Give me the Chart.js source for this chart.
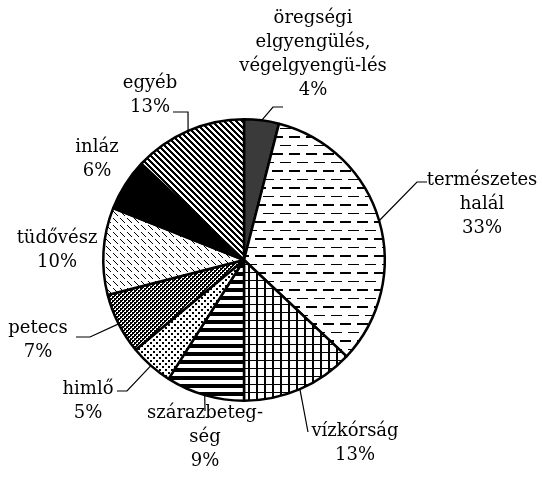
<!DOCTYPE html>
<html>
<head>
<meta charset="utf-8">
<script src="https://cdn.jsdelivr.net/npm/chart.js@4"></script>
<style>
  html, body { margin: 0; padding: 0; background: #fff; }
  #wrap { width: 542px; height: 486px; }
</style>
</head>
<body>
<div id="wrap"><canvas id="pie" width="542" height="486"></canvas></div>
<script>
// halálokok - adatok
const categories = ['öregségi elgyengülés, végelgyengü-lés', 'természetes halál', 'vízkórság', 'szárazbetegség', 'himlő', 'petecs', 'tüdővész', 'inláz', 'egyéb'];
const shares = [4, 33, 13, 9, 5, 7, 10, 6, 13];
// felirat sorai (tördelés a kép szerint)
const labelLines = [
    ['öregségi', 'elgyengülés,', 'végelgyengü-lés'],
    ['természetes', 'halál'],
    ['vízkórság'],
    ['szárazbeteg-', 'ség'],
    ['himlő'],
    ['petecs'],
    ['tüdővész'],
    ['inláz'],
    ['egyéb']
];

// feliratok helye + vezetővonal (könyök, vég) - layout
const labelLayout = [
    { x: 313, y: 18, leader: [[273, 107], [283, 107]] },
    { x: 482, y: 180, leader: [[417, 182], [427, 182]] },
    { x: 355, y: 431, leader: [[308, 432]] },
    { x: 205, y: 413, leader: [[205, 411]] },
    { x: 88, y: 389, leader: [[127, 391], [117, 391]] },
    { x: 38, y: 328, leader: [[90, 337], [76, 337]] },
    { x: 57, y: 238, leader: null },
    { x: 97, y: 147, leader: null },
    { x: 150, y: 83, leader: [[188, 112], [173, 112]] }
];

const FONT = '18px "DejaVu Serif"';
const LINE_H = 24;

// minták
function makePattern(w, h, draw) {
    const c = document.createElement('canvas');
    c.width = w; c.height = h;
    const g = c.getContext('2d');
    g.fillStyle = '#fff';
    g.fillRect(0, 0, w, h);
    g.fillStyle = '#000';
    draw(g);
    return g.createPattern(c, 'repeat');
}

const patterns = [
    '#3a3a3a',
    makePattern(17, 17, g => {
        g.fillRect(0, 0, 11, 2);
        g.fillRect(8, 9, 9, 1);
        g.fillRect(0, 9, 2, 1);
    }),
    makePattern(8, 8, g => {
        g.fillRect(0, 0, 8, 1);
        g.fillRect(0, 0, 2, 8);
    }),
    makePattern(1, 8, g => {
        g.fillRect(0, 0, 1, 4);
    }),
    makePattern(6, 6, g => {
        g.fillRect(0, 0, 2, 2);
        g.fillRect(3, 3, 2, 2);
    }),
    makePattern(4, 4, g => {
        g.fillRect(0, 0, 2, 2);
        g.fillRect(2, 2, 2, 2);
        g.fillRect(2, 0, 1, 1);
        g.fillRect(0, 2, 1, 1);
    }),
    makePattern(7, 7, g => {
        for (let i = 0; i < 5; i++) g.fillRect(1 + i, 1 + i, 1, 1);
    }),
    '#000',
    makePattern(6, 6, g => {
        for (let x = 0; x < 6; x++)
            for (let y = 0; y < 6; y++)
                if (((x - y) % 6 + 6) % 6 < 3) g.fillRect(x, y, 1, 1);
    })
];

// feliratok + vezetővonalak
const labelPlugin = {
    id: 'pieLabels',
    afterDraw(chart) {
        const ctx = chart.ctx;
        const arcs = chart.getDatasetMeta(0).data;
        ctx.save();
        ctx.strokeStyle = '#000';
        ctx.lineWidth = 1.2;
        arcs.forEach((arc, i) => {
            const lay = labelLayout[i];
            if (!lay.leader) return;
            const mid = (arc.startAngle + arc.endAngle) / 2;
            const sx = arc.x + Math.cos(mid) * arc.outerRadius;
            const sy = arc.y + Math.sin(mid) * arc.outerRadius;
            ctx.beginPath();
            ctx.moveTo(sx, sy);
            lay.leader.forEach(p => ctx.lineTo(p[0], p[1]));
            ctx.stroke();
        });
        ctx.font = FONT;
        ctx.fillStyle = '#000';
        ctx.textAlign = 'center';
        ctx.textBaseline = 'middle';
        labelLines.forEach((lines, i) => {
            const lay = labelLayout[i];
            const all = lines.concat([shares[i] + '%']);
            all.forEach((t, k) => ctx.fillText(t, lay.x, lay.y + k * LINE_H));
        });
        ctx.restore();
    }
};

new Chart(document.getElementById('pie'), {
    type: 'pie',
    data: {
        labels: categories,
        datasets: [{
            data: shares,
            backgroundColor: patterns,
            borderColor: '#000',
            borderWidth: 2.5
        }]
    },
    options: {
        responsive: false,
        animation: false,
        events: [],
        layout: { padding: { left: 102, right: 156, top: 118, bottom: 84 } },
        plugins: {
            legend: { display: false },
            tooltip: { enabled: false }
        }
    },
    plugins: [labelPlugin]
});
</script>
</body>
</html>
